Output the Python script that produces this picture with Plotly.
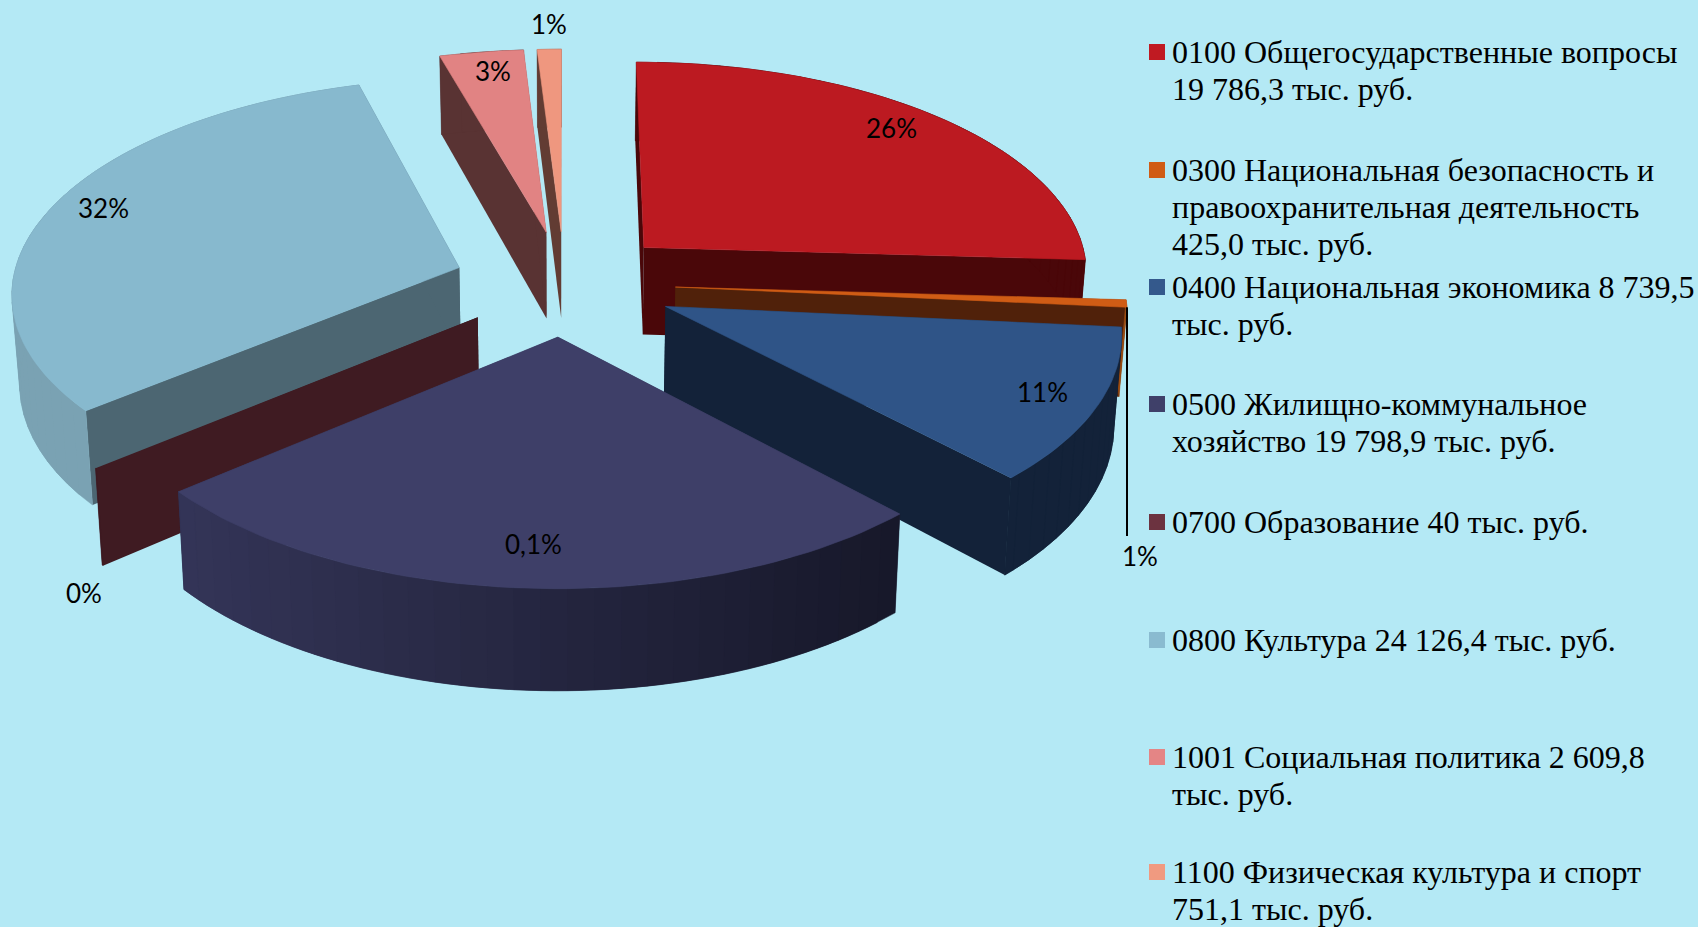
import math
import plotly.graph_objects as go

# ---- data ----
codes = ["0100", "0300", "0400", "0500", "0700", "0800", "1001", "1100"]
values = [19786.3, 425.0, 8739.5, 19798.9, 40.0, 24126.4, 2609.8, 751.1]
percent_labels = ["26%", "1%", "11%", "0,1%", "0%", "32%", "3%", "1%"]
legend_lines = [
    ["0100 Общегосударственные вопросы", "19 786,3 тыс. руб."],
    ["0300 Национальная безопасность и", "правоохранительная деятельность", "425,0 тыс. руб."],
    ["0400 Национальная экономика 8 739,5", "тыс. руб."],
    ["0500 Жилищно-коммунальное", "хозяйство 19 798,9 тыс. руб."],
    ["0700 Образование 40 тыс. руб."],
    ["0800 Культура 24 126,4 тыс. руб."],
    ["1001 Социальная политика 2 609,8", "тыс. руб."],
    ["1100 Физическая культура и спорт", "751,1 тыс. руб."],
]

# ---- style ----
BG = "#B4E9F5"
top_colors = ["#BC1A21", "#D05C15", "#2F5487", "#3E3F68", "#6C3340", "#87B9CE", "#E18383", "#EF977F"]
legend_colors = ["#C01A22", "#D05C15", "#34598C", "#3F4069", "#6C3340", "#8ABBD0", "#E48585", "#F09A80"]
face_colors = ["#4A0709", "#50210A", "#132239", "#343558", "#3F1B22", "#4C6672", "#593333", "#623C33"]
arc_left = ["#4A0709", "#9A4C12", "#132239", "#343558", "#3F1B22", "#7AA2B3", "#593333", "#623C33"]
arc_right = ["#4A0709", "#9A4C12", "#132239", "#17182A", "#3F1B22", "#7AA2B3", "#593333", "#623C33"]
draw_order = [7, 6, 0, 5, 1, 4, 2, 3]
label_xy = [(891, 128), (1140, 556), (1042, 392), (533, 544), (84, 593), (103, 208), (493, 71), (549, 24)]
legend_y = [52, 170, 287, 404, 522, 640, 757, 872]
LINE_STEP = 37

# projection of the exploded 3-D pie
CX, CY, RADIUS, PULL, DEPTH, K, TILT, CONVERGE = 564.5, 283, 447, 111, 88.5, 0.000239, 0.475, 0.00016


def project(x, y, z):
    s = 1 / (1 + K * y)
    return CX + x * s * (1 - CONVERGE * z), CY - y * TILT * s + z * s


def lerp_color(a, b, f):
    ca = [int(a[i:i + 2], 16) for i in (1, 3, 5)]
    cb = [int(b[i:i + 2], 16) for i in (1, 3, 5)]
    return "rgb(%d,%d,%d)" % tuple(round(p + (q - p) * f) for p, q in zip(ca, cb))


fig = go.Figure()


def poly(points, color, name, lw=0.6):
    fig.add_trace(go.Scatter(
        x=[p[0] for p in points] + [points[0][0]],
        y=[p[1] for p in points] + [points[0][1]],
        mode="lines", fill="toself", fillcolor=color,
        line=dict(color=color, width=lw),
        hoverinfo="skip", showlegend=False, name=name,
    ))


total = sum(values)
angles = [90.0]
for v in values:
    angles.append(angles[-1] - 360.0 * v / total)

outer_points = {}
for i in draw_order:
    a0, a1 = angles[i], angles[i + 1]
    mid = math.radians((a0 + a1) / 2)
    ox, oy = PULL * math.cos(mid), PULL * math.sin(mid)
    n = max(2, int(abs(a0 - a1) / 1.5))
    arc = []
    for j in range(n + 1):
        a = math.radians(a0 + (a1 - a0) * j / n)
        arc.append((ox + RADIUS * math.cos(a), oy + RADIUS * math.sin(a)))
    outer_points[i] = arc
    apex_t, apex_b = project(ox, oy, 0), project(ox, oy, DEPTH)
    # radial side faces
    for e in (arc[0], arc[-1]):
        poly([apex_t, project(e[0], e[1], 0), project(e[0], e[1], DEPTH), apex_b], face_colors[i], codes[i], lw=0)
    # outer rim, shaded along the arc in overlapping bands
    top_rim = [project(p[0], p[1], 0) for p in arc]
    bot_rim = [project(p[0], p[1], DEPTH) for p in arc]
    xmin, xmax = min(p[0] for p in top_rim), max(p[0] for p in top_rim)
    for j in range(0, n, 2):
        e = min(j + 4, n)
        pts = top_rim[j:e + 1] + bot_rim[j:e + 1][::-1]
        f = (top_rim[j][0] - xmin) / max(xmax - xmin, 1)
        poly(pts, lerp_color(arc_left[i], arc_right[i], f), codes[i], lw=0.5)
    # top face
    if i != 4:
        poly([apex_t] + top_rim, top_colors[i], codes[i])

# leader line for the 0300 slice label
leader_top = project(outer_points[1][-1][0], outer_points[1][-1][1], 0)
lab_x, lab_y = label_xy[1]
fig.add_trace(go.Scatter(x=[leader_top[0], leader_top[0]], y=[leader_top[1], lab_y - 20], mode="lines",
                         line=dict(color="black", width=2), hoverinfo="skip", showlegend=False))

# legend swatches
fig.add_trace(go.Scatter(x=[1157] * len(codes), y=legend_y, mode="markers",
                         marker=dict(symbol="square", size=16, color=legend_colors, line=dict(width=0)),
                         hoverinfo="skip", showlegend=False))

annotations = []
for txt, (x, y) in zip(percent_labels, label_xy):
    annotations.append(dict(x=x, y=y, xref="x", yref="y", text=txt, showarrow=False,
                            font=dict(family="Lato", size=26, color="black"), xanchor="center", yanchor="middle"))
for lines, y in zip(legend_lines, legend_y):
    for r, line in enumerate(lines):
        annotations.append(dict(x=1172, y=y + r * LINE_STEP, xref="x", yref="y", text=line, showarrow=False,
                                font=dict(family="Liberation Serif", size=32, color="black"),
                                xanchor="left", yanchor="middle", borderpad=0, xshift=-1))

fig.update_layout(
    width=1698, height=927, margin=dict(l=0, r=0, t=0, b=0), autosize=False,
    paper_bgcolor=BG, plot_bgcolor=BG, showlegend=False,
    xaxis=dict(range=[0, 1698], visible=False, fixedrange=True),
    yaxis=dict(range=[927, 0], visible=False, fixedrange=True),
    annotations=annotations,
)
fig.write_html("out.html", config={"displayModeBar": False},
               post_script="document.body.style.margin='0';document.documentElement.style.overflow='hidden';document.body.style.background='%s';" % BG)
